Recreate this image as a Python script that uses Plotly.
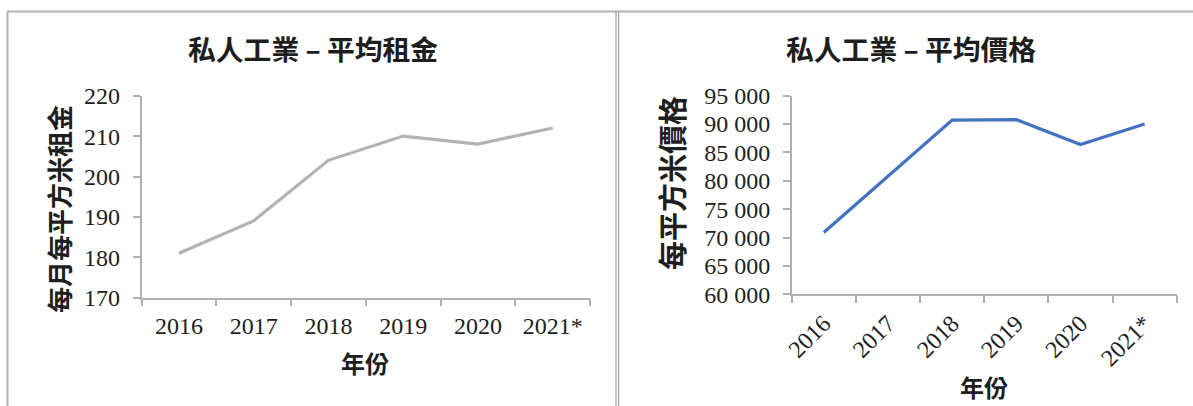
import plotly.graph_objects as go

W, H = 1193, 406

# ---- data ----
years = ["2016", "2017", "2018", "2019", "2020", "2021*"]
rent = [181, 189, 204, 210, 208, 212]
price = [70900, 80800, 90700, 90800, 86400, 90000]

title_rent = "私人工業 – 平均租金"
title_price = "私人工業 – 平均價格"
ytitle_rent = "每月每平方米租金"
ytitle_price = "每平方米價格"
xtitle = "年份"

CJK = "Noto Sans CJK TC"
SERIF = "Liberation Serif"
AXIS_C = "#b0b0b0"
TXT = "#1e1e1e"


def px(x):
    return x / W


def py(y):
    return (H - y) / H


fig = go.Figure()
fig.add_trace(go.Scatter(x=years, y=rent, mode="lines", xaxis="x", yaxis="y",
                         line=dict(color="#b3b3b7", width=3.2), showlegend=False))
fig.add_trace(go.Scatter(x=years, y=price, mode="lines", xaxis="x2", yaxis="y2",
                         line=dict(color="#4272c0", width=3.2), showlegend=False))

common_x = dict(type="category", range=[-0.5, 5.5], showline=True, linecolor=AXIS_C,
                linewidth=1.5, ticks="outside", ticklen=7, tickcolor=AXIS_C, tickwidth=1.5,
                tickson="boundaries", showgrid=False, zeroline=False, automargin=False,
                tickfont=dict(family=SERIF, size=24, color=TXT))
common_y = dict(showline=True, linecolor=AXIS_C, linewidth=1.5, ticks="outside",
                ticklen=7, tickcolor=AXIS_C, tickwidth=1.5, showgrid=False, zeroline=False,
                automargin=False, tickfont=dict(family=SERIF, size=24, color=TXT))

fig.update_layout(
    width=W, height=H, autosize=False,
    margin=dict(l=0, r=0, t=0, b=0, pad=0),
    paper_bgcolor="white", plot_bgcolor="white",
    separators=". ",
    xaxis=dict(common_x, domain=[px(141.5), px(590)], anchor="y", ticklabelstandoff=6),
    yaxis=dict(common_y, domain=[py(297.7), py(95.7)], anchor="x", range=[170, 220],
               dtick=10, ticklabelstandoff=8),
    xaxis2=dict(common_x, domain=[px(791.7), px(1176.7)], anchor="y2", tickangle=-45,
                ticklabelstandoff=4),
    yaxis2=dict(common_y, domain=[py(294.3), py(95.7)], anchor="x2", range=[60000, 95000],
                dtick=5000, tickformat=",d", ticklabelstandoff=8),
)

ann = []


def text(x, y, s, size, angle=0, yanchor="middle"):
    ann.append(dict(x=px(x), y=py(y), xref="paper", yref="paper", text="<b>" + s + "</b>",
                    showarrow=False, textangle=angle, xanchor="center", yanchor=yanchor,
                    font=dict(family=CJK, size=size, color=TXT)))


text(313, 48, title_rent, 27.8)
text(911, 48, title_price, 27.8)
text(58, 209, ytitle_rent, 26, -90)
text(671, 183, ytitle_price, 29, -90)
text(365, 362, xtitle, 24)
text(984, 406, xtitle, 24, yanchor="bottom")
fig.update_layout(annotations=ann)

BORDER = "#b2b2b2"
shapes = [
    dict(type="line", xref="paper", yref="paper", x0=px(7.5), x1=px(7.5), y0=py(11.5), y1=0,
         line=dict(color=BORDER, width=2)),
    dict(type="line", xref="paper", yref="paper", x0=px(7), x1=1, y0=py(11.5), y1=py(11.5),
         line=dict(color=BORDER, width=2)),
    dict(type="line", xref="paper", yref="paper", x0=px(616), x1=px(616), y0=py(11.5), y1=0,
         line=dict(color="#a8a8a8", width=1.3)),
    dict(type="line", xref="paper", yref="paper", x0=px(618.6), x1=px(618.6), y0=py(11.5), y1=0,
         line=dict(color="#a8a8a8", width=1.3)),
]
fig.update_layout(shapes=shapes)

fig.write_html("out.html")
